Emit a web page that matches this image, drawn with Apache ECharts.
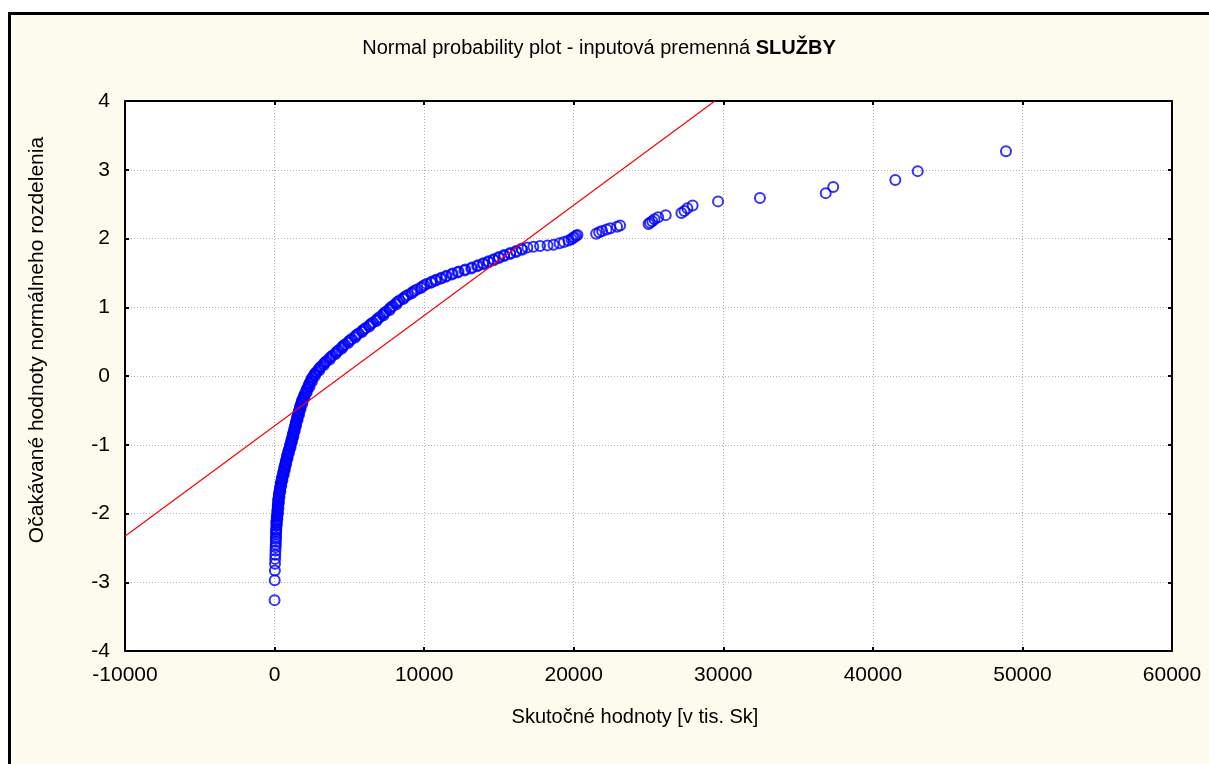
<!DOCTYPE html>
<html>
<head>
<meta charset="utf-8">
<script src="https://cdn.jsdelivr.net/npm/echarts@6/dist/echarts.min.js"></script>
<style>html,body{margin:0;padding:0;background:#fff;}#chart{width:1209px;height:764px;}</style>
</head>
<body>
<div id="chart"></div>
<script>
const sampleValues = [
  0, 10, 20, 30, 40, 50, 60, 70, 80, 85, 90, 95, 100, 105, 110, 115,
  120, 125, 140, 155, 170, 190, 205, 215, 230, 245, 260, 285, 310, 340, 375, 405,
  440, 480, 525, 570, 610, 650, 690, 740, 780, 825, 870, 920, 975, 1030, 1075, 1120,
  1170, 1215, 1265, 1310, 1360, 1400, 1450, 1495, 1545, 1590, 1640, 1695, 1750, 1810, 1870, 1950,
  2030, 2110, 2190, 2270, 2350, 2440, 2530, 2650, 2800, 2950, 3110, 3290, 3480, 3670, 3880, 4100,
  4300, 4500, 4700, 4930, 5160, 5390, 5620, 5860, 6100, 6340, 6580, 6820, 7050, 7250, 7470, 7680,
  7900, 8120, 8350, 8630, 8910, 9210, 9530, 9850, 10170, 10500, 10800, 11150, 11500, 11900, 12300, 12750,
  13200, 13600, 13950, 14300, 14650, 15000, 15350, 15750, 16150, 16500, 16900, 17300, 17750, 18250, 18650, 19050,
  19350, 19650, 19850, 19950, 20050, 20150, 20250,
  21500, 21700, 21900, 22200, 22450, 22900, 23100, 25000, 25100, 25250, 25400, 25650, 26150, 27200, 27400, 27600,
  27950, 29650, 32450, 36850, 37350, 41500, 43000, 48900
];
const normalQuantiles = [
  -3.26, -2.97, -2.83, -2.73, -2.66, -2.60, -2.54, -2.49, -2.45, -2.41, -2.37, -2.34, -2.30, -2.27, -2.245, -2.22,
  -2.18, -2.14, -2.10, -2.06, -2.02, -1.98, -1.94, -1.90, -1.86, -1.82, -1.78, -1.74, -1.70, -1.66, -1.62, -1.58,
  -1.54, -1.50, -1.46, -1.42, -1.38, -1.34, -1.30, -1.26, -1.22, -1.18, -1.14, -1.10, -1.06, -1.02, -0.98, -0.94,
  -0.90, -0.86, -0.82, -0.78, -0.74, -0.70, -0.66, -0.62, -0.58, -0.54, -0.50, -0.46, -0.42, -0.38, -0.34, -0.30,
  -0.26, -0.22, -0.18, -0.14, -0.10, -0.06, -0.02, 0.02, 0.06, 0.10, 0.14, 0.18, 0.22, 0.26, 0.30, 0.34,
  0.38, 0.42, 0.46, 0.50, 0.54, 0.58, 0.62, 0.66, 0.70, 0.74, 0.78, 0.82, 0.86, 0.90, 0.94, 0.98,
  1.02, 1.06, 1.10, 1.14, 1.18, 1.22, 1.26, 1.30, 1.34, 1.37, 1.40, 1.43, 1.46, 1.49, 1.52, 1.55,
  1.58, 1.61, 1.64, 1.67, 1.70, 1.73, 1.76, 1.79, 1.82, 1.85, 1.87, 1.88, 1.89, 1.90, 1.91, 1.93,
  1.95, 1.97, 1.99, 2.01, 2.02, 2.04, 2.05,
  2.07, 2.09, 2.11, 2.13, 2.15, 2.17, 2.19, 2.21, 2.23, 2.25, 2.28, 2.31, 2.34, 2.37, 2.40, 2.44,
  2.48, 2.54, 2.59, 2.66, 2.75, 2.85, 2.98, 3.27
];
// Further points of the dense band (between the ones above)
const sampleValuesB = [
  150, 130, 190, 160, 230, 195, 260, 220, 300, 250, 330, 295, 390, 355, 450, 420,
  520, 500, 610, 590, 690, 670, 780, 760, 870, 850, 960, 950, 1070, 1050, 1160, 1145,
  1260, 1240, 1350, 1335, 1440, 1425, 1540, 1520, 1640, 1615, 1740, 1720, 1860, 1840, 1990, 1990,
  2150, 2150, 2330, 2310, 2500, 2490, 2700, 2720, 2980, 3030, 3300, 3380, 3680, 3780, 4080, 4200,
  4500, 4600, 4920, 5050, 5380, 5500, 5850, 5980, 6330, 6460, 6820, 6930, 7270, 7360, 7700, 7790,
  8130, 8240, 8600, 8770, 9150, 9370, 9780, 10010,
  10450, 10750, 11100, 11450, 11850, 12250, 12700, 13150, 13550, 13950, 14300, 14650, 15000, 15350, 15750, 16150, 16550
];
const normalQuantilesB = [
  -2.16, -2.12, -2.08, -2.04, -2.00, -1.96, -1.92, -1.88, -1.84, -1.80, -1.76, -1.72, -1.68, -1.64, -1.60, -1.56,
  -1.52, -1.48, -1.44, -1.40, -1.36, -1.32, -1.28, -1.24, -1.20, -1.16, -1.12, -1.08, -1.04, -1.00, -0.96, -0.92,
  -0.88, -0.84, -0.80, -0.76, -0.72, -0.68, -0.64, -0.60, -0.56, -0.52, -0.48, -0.44, -0.40, -0.36, -0.32, -0.28,
  -0.24, -0.20, -0.16, -0.12, -0.08, -0.04, 0.00, 0.04, 0.08, 0.12, 0.16, 0.20, 0.24, 0.28, 0.32, 0.36,
  0.40, 0.44, 0.48, 0.52, 0.56, 0.60, 0.64, 0.68, 0.72, 0.76, 0.80, 0.84, 0.88, 0.92, 0.96, 1.00,
  1.04, 1.08, 1.12, 1.16, 1.20, 1.24, 1.28, 1.32,
  1.355, 1.385, 1.415, 1.445, 1.475, 1.505, 1.535, 1.565, 1.595, 1.625, 1.655, 1.685, 1.715, 1.745, 1.775, 1.805, 1.835
];
// Reference (fitted) line end points
const fitLineX = [-10000, 29440];
const fitLineY = [-2.33, 4.0];

const xTicks = { min: -10000, max: 60000, interval: 10000 };
const yTicks = { min: -4, max: 4, interval: 1 };

const chartTitle = 'Normal probability plot - inputová premenná ';
const chartTitleBold = 'SLUŽBY';
const xTitle = 'Skutočné hodnoty [v tis. Sk]';
const yTitle = 'Očakávané hodnoty normálneho rozdelenia';

const FONT = '"Liberation Sans", Arial, sans-serif';
const chart = echarts.init(document.getElementById('chart'), null, { renderer: 'canvas' });

const points = sampleValues.map((v, i) => [v, normalQuantiles[i]])
  .concat(sampleValuesB.map((v, i) => [v, normalQuantilesB[i]]));
const linePts = fitLineX.map((v, i) => [v, fitLineY[i]]);

const axisCommon = {
  axisLine: { show: true, onZero: false, lineStyle: { color: '#000', width: 2 } },
  axisTick: { show: true, inside: true, length: 4, lineStyle: { color: '#000', width: 2 } },
};

chart.setOption({
  animation: false,
  backgroundColor: '#ffffff',
  title: {
    text: chartTitle + '{b|' + chartTitleBold + '}',
    left: 594, top: 33, textAlign: 'center',
    textStyle: { fontFamily: FONT, fontSize: 20, fontWeight: 'normal', color: '#000',
      rich: { b: { fontFamily: FONT, fontSize: 20, fontWeight: 'bold', color: '#000' } } }
  },
  graphic: [
    { type: 'rect', z: -100, silent: true,
      shape: { x: 9.5, y: 13.5, width: 1400, height: 900 },
      style: { fill: '#fdfaee', stroke: '#000', lineWidth: 3 } },
    { type: 'text', x: 635, y: 717, silent: true,
      style: { text: xTitle, font: '20px ' + FONT, fill: '#000', textAlign: 'center', textVerticalAlign: 'middle' } },
    { type: 'text', x: 37, y: 340, rotation: Math.PI / 2, silent: true,
      style: { text: yTitle, font: '21px ' + FONT, fill: '#000', textAlign: 'center', textVerticalAlign: 'middle' } }
  ],
  grid: { left: 125, top: 101, right: 37, bottom: 113, show: true, backgroundColor: '#ffffff', borderWidth: 0, containLabel: false },
  xAxis: [
    Object.assign({ type: 'value', position: 'bottom', min: xTicks.min, max: xTicks.max, interval: xTicks.interval,
      axisLabel: { fontFamily: FONT, fontSize: 21, color: '#000', margin: 14, formatter: v => String(v) },
      splitLine: { show: true, lineStyle: { color: '#b4b4b4', width: 1, type: [1, 2] } } }, axisCommon),
    Object.assign({ type: 'value', position: 'top', min: xTicks.min, max: xTicks.max, interval: xTicks.interval,
      axisLabel: { show: false }, splitLine: { show: false } }, axisCommon)
  ],
  yAxis: [
    Object.assign({ type: 'value', position: 'left', min: yTicks.min, max: yTicks.max, interval: yTicks.interval,
      axisLabel: { fontFamily: FONT, fontSize: 21, color: '#000', margin: 15, formatter: v => String(v) },
      splitLine: { show: true, lineStyle: { color: '#b4b4b4', width: 1, type: [1, 2] } } }, axisCommon),
    Object.assign({ type: 'value', position: 'right', min: yTicks.min, max: yTicks.max, interval: yTicks.interval,
      axisLabel: { show: false }, splitLine: { show: false } }, axisCommon)
  ],
  series: [
    { type: 'line', data: linePts, xAxisIndex: 0, yAxisIndex: 0, symbol: 'none', clip: true,
      lineStyle: { color: '#ff0000', width: 1.2 }, z: 3, silent: true },
    { type: 'scatter', data: points, xAxisIndex: 0, yAxisIndex: 0, symbol: 'circle', symbolSize: 10,
      itemStyle: { color: 'rgba(0,0,0,0)', borderColor: '#0000ff', borderWidth: 2 }, z: 2, silent: true }
  ]
});
</script>
</body>
</html>
